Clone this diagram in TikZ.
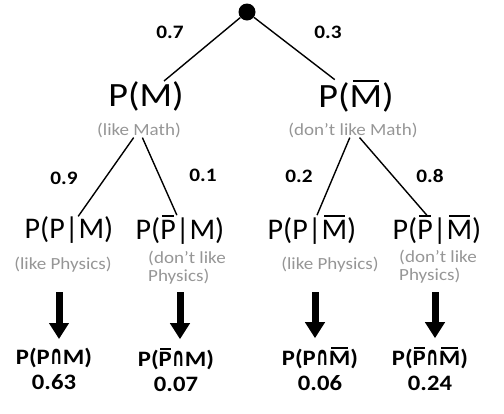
\documentclass[tikz,border=0pt]{standalone}
\usepackage{fontspec}
\setmainfont{Carlito}
\newfontfamily\midface{Carlito}[FakeStretch=1.12]
\newfontfamily\symface{DejaVu Sans}
\usetikzlibrary{arrows.meta}
\definecolor{notegray}{RGB}{150,150,150}
\def\barred#1{\setbox0\hbox{#1}\rlap{\kern0.1\wd0\rule[\dimexpr\ht0+0.1em\relax]{0.8\wd0}{0.07em}}\box0}
\def\meet{\scalebox{0.8}[1.32]{\symface\fontsize{20}{20}\selectfont ∩}}

\begin{document}
\begin{tikzpicture}[x=1pt,y=-1pt,
  branch/.style={line width=1.4pt},
  prob/.style={font=\midface\bfseries\fontsize{19}{22}\selectfont, inner sep=0},
  event/.style={font=\midface\fontsize{34}{40}\selectfont, inner sep=0},
  cond/.style={font=\fontsize{30}{36}\selectfont, inner sep=0},
  note/.style={font=\midface\fontsize{17}{18}\selectfont, text=notegray, inner sep=0, align=left},
  result/.style={font=\midface\bfseries\fontsize{22}{25}\selectfont, inner sep=0, align=center},
  down/.style={line width=7pt, -{Triangle[width=19pt,length=16pt]}, shorten >=9pt}]
\useasboundingbox (0,0) rectangle (504,413);
% root and first split
\node[circle, fill, inner sep=0, minimum size=17pt] (root) at (247,12) {};
\node[event] (m) at (146,96) {P(M)};
\node[event] (mb) at (356,96) {P(\barred{M})};
\node[note] (mnote) at (139,130) {(like Math)};
\node[note] (mbnote) at (353,130) {(don’t like Math)};
\draw[branch] (root) -- ([shift={(20,-27)}]m);
\draw[branch] (root) -- ([shift={(-28,-26)}]mb);
\node[prob] (p1) at (170,32) {0.7};
\node[prob] (p2) at (328,32) {0.3};
% second split
\node[cond] (pm) at (69,230) {P(P|M)};
\node[cond] (pnm) at (180,230) {P(\barred{P}|M)};
\node[cond] (pmb) at (312,230) {P(P|\barred{M})};
\node[cond] (pnmb) at (437,230) {P(\barred{P}|\barred{M})};
\node[note] (pmnote) at (63,265) {(like Physics)};
\node[note] (pnmnote) at (187,268) {(don’t like\\Physics)};
\node[note] (pmbnote) at (330,265) {(like Physics)};
\node[note] (pnmbnote) at (438,267) {(don’t like\\Physics)};
\draw[branch] ([shift={(-16,20)}]mnote) -- ([shift={(27,-18)}]pm);
\draw[branch] ([shift={(24,19)}]mnote) -- ([shift={(19,-20)}]pnm);
\draw[branch] ([shift={(-14,20)}]mbnote) -- ([shift={(-5,-23)}]pmb);
\draw[branch] ([shift={(27,17)}]mbnote) -- ([shift={(-21,-21)}]pnmb);
\node[prob] (p3) at (64,178) {0.9};
\node[prob] (p4) at (203,175) {0.1};
\node[prob] (p5) at (299,176) {0.2};
\node[prob] (p6) at (430,176) {0.8};
% joint probabilities
\node[result] (r1) at (54,369) {P(P\meet M)\\0.63};
\node[result] (r2) at (176,370) {P(\barred{P}\meet M)\\0.07};
\node[result] (r3) at (320,369) {P(P\meet\barred{M})\\0.06};
\node[result] (r4) at (430,369) {P(\barred{P}\meet\barred{M})\\0.24};
\coordinate (a1) at (59,292);
\coordinate (a2) at (180,292);
\coordinate (a3) at (315,292);
\coordinate (a4) at (435,292);
\draw[down] (a1) -- (a1 |- r1.north);
\draw[down] (a2) -- (a2 |- r2.north);
\draw[down] (a3) -- (a3 |- r3.north);
\draw[down] (a4) -- (a4 |- r4.north);
\end{tikzpicture}
\end{document}
